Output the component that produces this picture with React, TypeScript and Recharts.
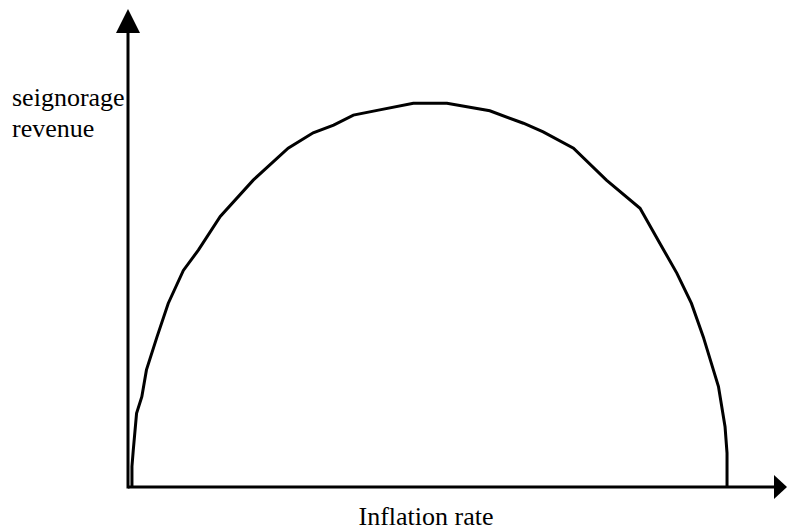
import React from 'react';
import { LineChart, Line, XAxis, YAxis, ReferenceLine, ReferenceDot } from 'recharts';

// Inflation rate (x) and seignorage revenue (y), arbitrary units 0..100
const inflation = [0.6, 0.6, 0.8, 1.3, 2.1, 2.8, 4.4, 6.1, 8.4, 10.7, 14.0, 19.0, 24.3, 28.1, 31.2, 34.2, 38.2, 43.3, 48.4, 54.9, 60.0, 63.0, 67.6, 72.6, 77.7, 80.7, 83.3, 85.5, 87.3, 89.6, 90.6, 90.9, 90.9];
const revenue = [0, 4.3, 7.7, 15.4, 18.9, 24.5, 31.4, 38.4, 45.3, 49.6, 56.6, 64.2, 70.9, 74.1, 75.7, 77.8, 78.9, 80.3, 80.3, 78.7, 76.1, 74.3, 70.9, 64.2, 58.3, 51.0, 44.7, 38.4, 31.4, 21.0, 12.6, 7.1, 0];

const yLabelLines = ['seignorage', 'revenue'];
const xLabel = 'Inflation rate';

const data = inflation.map((x, i) => ({ x, y: revenue[i] }));

const textStyle: React.CSSProperties = { fontFamily: "'Liberation Serif', 'DejaVu Serif', serif", fontSize: 26, fill: '#000' };

const UpArrow = (props: any) => {
  const { cx, cy } = props;
  return <polygon points={`${cx},${cy} ${cx - 12},${cy + 24} ${cx + 12},${cy + 24}`} fill="#000" />;
};
const RightArrow = (props: any) => {
  const { cx, cy } = props;
  return <polygon points={`${cx},${cy} ${cx - 13},${cy - 12} ${cx - 13},${cy + 12}`} fill="#000" />;
};

export default function App() {
  return (
    <div style={{ position: 'absolute', left: 0, top: 0, background: '#fff' }}>
      <LineChart width={787} height={531} data={data} margin={{ top: 9, right: 0, bottom: 44, left: 128 }}>
        <XAxis type="number" dataKey="x" domain={[0, 100]} hide />
        <YAxis type="number" domain={[0, 100]} hide />
        <ReferenceLine segment={[{ x: 0, y: 0 }, { x: 98.5, y: 0 }]} stroke="#000" strokeWidth={3} ifOverflow="visible" />
        <ReferenceLine segment={[{ x: 0, y: -0.3 }, { x: 0, y: 96 }]} stroke="#000" strokeWidth={3} ifOverflow="visible" />
        <ReferenceDot x={0} y={100} r={1} shape={UpArrow} ifOverflow="visible" />
        <ReferenceDot x={100} y={0} r={1} shape={RightArrow} ifOverflow="visible" />
        <Line type="linear" dataKey="y" stroke="#000" strokeWidth={3} dot={false} isAnimationActive={false} />
        <text x={12} y={106} style={textStyle}>{yLabelLines[0]}</text>
        <text x={12} y={137} style={textStyle}>{yLabelLines[1]}</text>
        <text x={426} y={525} style={textStyle} textAnchor="middle">{xLabel}</text>
      </LineChart>
    </div>
  );
}
